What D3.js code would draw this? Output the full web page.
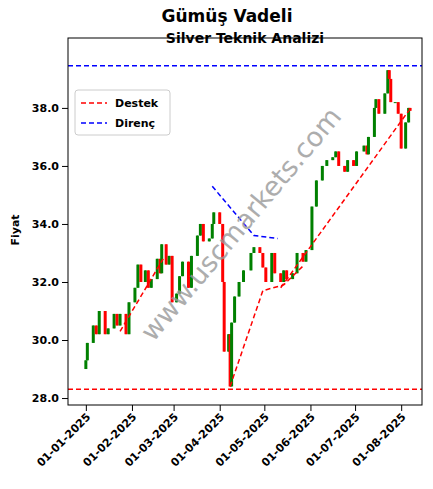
<!DOCTYPE html>
<html><head><meta charset="utf-8">
<script src="https://cdn.jsdelivr.net/npm/d3@7"></script>
<style>body{margin:0;background:#fff}text{font-family:"DejaVu Sans",sans-serif}</style>
</head><body><svg id="c" width="433" height="489"></svg>
<script>
const dates = ["2025-01-01","2025-01-02","2025-01-06","2025-01-08","2025-01-10","2025-01-14","2025-01-16","2025-01-20","2025-01-22","2025-01-24","2025-01-28","2025-01-30",
"2025-02-03","2025-02-05","2025-02-07","2025-02-10","2025-02-12","2025-02-14","2025-02-18","2025-02-20","2025-02-21","2025-02-24","2025-02-26","2025-02-28",
"2025-03-03","2025-03-05","2025-03-07","2025-03-11","2025-03-13","2025-03-17","2025-03-19","2025-03-21","2025-03-25","2025-03-27","2025-03-28","2025-04-01",
"2025-04-03","2025-04-04","2025-04-07","2025-04-08","2025-04-09","2025-04-11","2025-04-14","2025-04-17","2025-04-22","2025-04-24","2025-04-28","2025-04-30",
"2025-05-02","2025-05-06","2025-05-08","2025-05-12","2025-05-14","2025-05-16","2025-05-20","2025-05-23","2025-05-27","2025-05-29",
"2025-06-02","2025-06-05","2025-06-09","2025-06-12","2025-06-16","2025-06-18","2025-06-20","2025-06-24","2025-06-26","2025-06-30",
"2025-07-02","2025-07-07","2025-07-09","2025-07-10","2025-07-14","2025-07-15","2025-07-17","2025-07-21","2025-07-23","2025-07-24","2025-07-25","2025-07-28","2025-07-30",
"2025-08-01","2025-08-04","2025-08-06","2025-08-07"];
const closes = [29.3,29.9,30.5,30.2,31.0,30.2,30.4,30.9,30.5,30.9,30.2,31.3,
31.8,32.6,32.0,32.4,31.8,32.1,32.8,32.3,33.3,32.6,32.9,31.3,
31.6,32.2,32.7,31.8,32.9,33.6,34.0,33.4,33.5,34.0,34.4,34.0,
32.0,29.6,30.2,28.4,30.6,31.5,32.0,32.4,33.0,33.2,33.0,32.5,
32.0,33.0,32.3,32.0,32.4,32.1,32.3,33.0,32.7,33.1,
34.6,35.5,36.0,36.2,36.3,36.5,36.0,35.8,36.2,36.0,
36.5,36.7,36.4,37.0,38.0,38.3,37.8,38.5,39.3,39.0,38.2,38.2,37.8,
36.6,37.5,38.0,37.9];
const supportLevel = 28.3, resistLevel = 39.45;
const supportLines = [
  [["2025-01-24",30.3],["2025-02-22",32.8]],
  [["2025-04-08",28.4],["2025-04-30",31.7],["2025-05-14",31.9],["2025-05-28",32.6]],
  [["2025-05-12",31.8],["2025-08-06",37.9]]];
const resistLines = [[["2025-03-27",35.3],["2025-04-24",33.6],["2025-05-10",33.5]]];
const ticks = ["2025-01-01","2025-02-01","2025-03-01","2025-04-01","2025-05-01","2025-06-01","2025-07-01","2025-08-01"];
const yTicks = [28,30,32,34,36,38];

const p = d3.timeParse("%Y-%m-%d"), fmt = d3.timeFormat("%d-%m-%Y");
const L=68,R=422,T=38,B=405;
const x = d3.scaleTime().domain([d3.timeDay.offset(p("2025-01-01"),-11.4), d3.timeDay.offset(p("2025-01-01"),226)]).range([L,R]);
const y = d3.scaleLinear().domain([27.76,40.41]).range([B,T]);
const svg = d3.select("#c");
svg.append("text").attr("x",227).attr("y",22).attr("text-anchor","middle").attr("font-size",17).attr("font-weight","bold").text("Gümüş Vadeli");
svg.append("text").attr("x",245).attr("y",43).attr("text-anchor","middle").attr("font-size",14).attr("font-weight","bold").text("Silver Teknik Analizi");
svg.append("text").attr("transform","translate(19,230) rotate(-90)").attr("text-anchor","middle").attr("font-size",11).attr("font-weight","bold").text("Fiyat");

const data = dates.map((d,i)=>({d:p(d),o:i?closes[i-1]:closes[i]-0.3,c:closes[i]}));
const g = svg.append("g");
g.selectAll("line.w").data(data).join("line").attr("x1",d=>x(d.d)).attr("x2",d=>x(d.d))
 .attr("y1",d=>y(Math.max(d.o,d.c))).attr("y2",d=>y(Math.min(d.o,d.c))).attr("stroke",d=>d.c>=d.o?"green":"red").attr("stroke-width",1);
g.selectAll("rect").data(data).join("rect").attr("x",d=>x(d.d)-1.5).attr("width",3)
 .attr("y",d=>y(Math.max(d.o,d.c))).attr("height",d=>Math.max(1,Math.abs(y(d.o)-y(d.c))))
 .attr("fill",d=>d.c>=d.o?"green":"red");

const line = d3.line().x(d=>x(p(d[0]))).y(d=>y(d[1]));
supportLines.forEach(l=>svg.append("path").attr("d",line(l)).attr("fill","none").attr("stroke","red").attr("stroke-width",1.5).attr("stroke-dasharray","5,3"));
resistLines.forEach(l=>svg.append("path").attr("d",line(l)).attr("fill","none").attr("stroke","blue").attr("stroke-width",1.5).attr("stroke-dasharray","5,3"));
svg.append("line").attr("x1",L).attr("x2",R).attr("y1",y(supportLevel)).attr("y2",y(supportLevel)).attr("stroke","red").attr("stroke-width",1.5).attr("stroke-dasharray","5,3");
svg.append("line").attr("x1",L).attr("x2",R).attr("y1",y(resistLevel)).attr("y2",y(resistLevel)).attr("stroke","blue").attr("stroke-width",1.5).attr("stroke-dasharray","5,3");

svg.append("text").attr("transform","translate(248,230) rotate(-50)").attr("text-anchor","middle").attr("font-size",27).attr("fill","#999").attr("opacity",0.8).text("www.uscmarkets.com");

svg.append("rect").attr("x",L).attr("y",T).attr("width",R-L).attr("height",B-T).attr("fill","none").attr("stroke","#000");
const xa = svg.append("g").attr("transform",`translate(0,${B})`).call(d3.axisBottom(x).tickValues(ticks.map(p)).tickFormat(fmt).tickSizeOuter(0));
xa.selectAll("text").attr("transform","rotate(-45)").attr("text-anchor","end").attr("dx","-0.5em").attr("dy","0.3em").attr("font-size",11).attr("font-weight","bold").attr("font-family","DejaVu Sans");
const ya = svg.append("g").attr("transform",`translate(${L},0)`).call(d3.axisLeft(y).tickValues(yTicks).tickFormat(d3.format(".1f")).tickSizeOuter(0));
ya.selectAll("text").attr("font-size",11).attr("font-weight","bold").attr("font-family","DejaVu Sans");
svg.selectAll(".domain").remove();

const lg = svg.append("g").attr("transform","translate(75,90)");
lg.append("rect").attr("width",95).attr("height",45).attr("fill","#fff").attr("stroke","#ccc").attr("rx",3);
[["Destek","red"],["Direnç","blue"]].forEach((e,i)=>{
  lg.append("line").attr("x1",6).attr("x2",32).attr("y1",13+i*20).attr("y2",13+i*20).attr("stroke",e[1]).attr("stroke-width",1.5).attr("stroke-dasharray","5,3");
  lg.append("text").attr("x",40).attr("y",17+i*20).attr("font-size",11).attr("font-weight","bold").text(e[0]);
});
</script></body></html>
